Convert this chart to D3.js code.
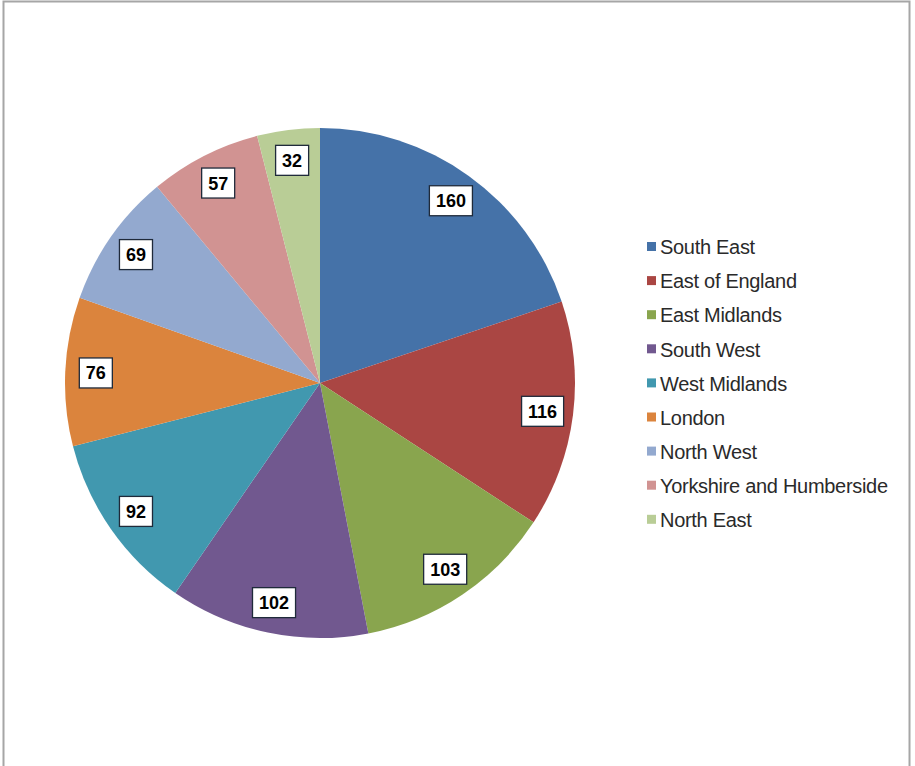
<!DOCTYPE html>
<html>
<head>
<meta charset="utf-8">
<script src="https://cdn.jsdelivr.net/npm/d3@7"></script>
<style>
  html, body { margin: 0; padding: 0; background: #fff; }
  svg { display: block; }
</style>
</head>
<body>
<svg id="chart" width="915" height="766"></svg>
<script>
// Regions and their values, drawn clockwise from 12 o'clock
const regions = ["South East", "East of England", "East Midlands", "South West",
  "West Midlands", "London", "North West", "Yorkshire and Humberside", "North East"];
const values = [160, 116, 103, 102, 92, 76, 69, 57, 32];
const colors = ["#4572A8", "#AA4643", "#89A54E", "#71588F", "#4198AF",
  "#DB843D", "#93A9CF", "#D19392", "#B9CD96"];

const svg = d3.select("#chart");

// chart-area frame
svg.append("rect")
  .attr("x", 3.5).attr("y", 1.5)
  .attr("width", 906).attr("height", 780)
  .attr("fill", "#fff")
  .attr("stroke", "#a6a6a6").attr("stroke-width", 2);

const cx = 320, cy = 383, R = 255;
const data = regions.map((r, i) => ({ region: r, value: values[i], color: colors[i] }));

const pie = d3.pie().sort(null).value(d => d.value);
const arc = d3.arc().innerRadius(0).outerRadius(R);
const labelArc = d3.arc().innerRadius(R * 0.88).outerRadius(R * 0.88);

const g = svg.append("g").attr("transform", `translate(${cx},${cy})`);
const arcs = pie(data);

g.selectAll("path.slice").data(arcs).join("path")
  .attr("class", "slice")
  .attr("d", arc)
  .attr("fill", d => d.data.color);

// value labels in white boxes
const lab = g.selectAll("g.lab").data(arcs).join("g")
  .attr("class", "lab")
  .attr("transform", d => `translate(${labelArc.centroid(d)})`);

lab.each(function(d) {
  const sel = d3.select(this);
  const t = sel.append("text")
    .attr("text-anchor", "middle")
    .attr("dy", "0.36em")
    .attr("font-family", "Liberation Sans, Arial, sans-serif")
    .attr("font-weight", "bold")
    .attr("font-size", 18)
    .attr("fill", "#000")
    .text(d.data.value);
  const bb = t.node().getBBox();
  const padX = 6.5, h = 30;
  sel.insert("rect", "text")
    .attr("x", -bb.width / 2 - padX)
    .attr("y", -h / 2)
    .attr("width", bb.width + 2 * padX)
    .attr("height", h)
    .attr("fill", "#fff")
    .attr("stroke", "#1f2a3a").attr("stroke-width", 1.3);
});

// legend
const legend = svg.append("g").attr("transform", "translate(647,247)");
const rowH = 34.1;
const items = legend.selectAll("g").data(data).join("g")
  .attr("transform", (d, i) => `translate(0,${i * rowH})`);
items.append("rect")
  .attr("x", 0).attr("y", -5)
  .attr("width", 9).attr("height", 9)
  .attr("fill", d => d.color);
items.append("text")
  .attr("x", 13).attr("dy", "0.36em")
  .attr("font-family", "Liberation Sans, Arial, sans-serif")
  .attr("font-size", 20)
  .attr("letter-spacing", -0.3)
  .attr("fill", "#2a2a2a")
  .text(d => d.region);
</script>
</body>
</html>
